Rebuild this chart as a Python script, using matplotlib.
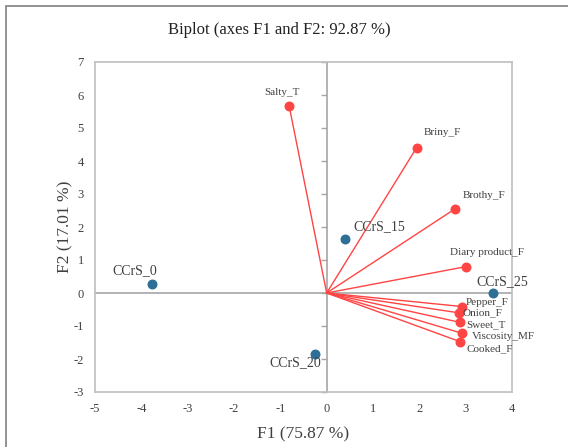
import matplotlib.pyplot as plt
from matplotlib.patches import Rectangle

# observacoes (scores)
obs_nomes = ['CCrS_0', 'CCrS_15', 'CCrS_20', 'CCrS_25']
obs_f1 = [-3.77, 0.40, -0.25, 3.60]
obs_f2 = [0.27, 1.63, -1.85, 0.00]

# variaveis (loadings escalados)
var_nomes = ['Salty_T', 'Briny_F', 'Brothy_F', 'Diary product_F', 'Pepper_F',
             'Onion_F', 'Sweet_T', 'Viscosity_MF', 'Cooked_F']
var_f1 = [-0.81, 1.94, 2.77, 3.01, 2.92, 2.85, 2.88, 2.92, 2.87]
var_f2 = [5.67, 4.40, 2.55, 0.80, -0.41, -0.60, -0.89, -1.22, -1.47]

xticks = [-5, -4, -3, -2, -1, 0, 1, 2, 3, 4]
yticks = [-3, -2, -1, 0, 1, 2, 3, 4, 5, 6, 7]

# deslocamento dos rotulos em pixels
obs_offset = [(-17, 13, 'center'), (8, 13, 'left'), (-20, -9, 'center'), (9, 11, 'center')]
var_offset = [(-7, 13, 'center'), (26, 15, 'center'), (29, 13, 'center'), (21, 14, 'center'),
              (4, 4, 'left'), (4, 0, 'left'), (6, -2, 'left'), (10, -3, 'left'), (7, -7, 'left')]

plt.rcParams['font.family'] = ['Liberation Serif', 'DejaVu Serif']
plt.rcParams['axes.unicode_minus'] = False

vermelho = '#FF4444'
azul = '#2E6F96'
cinza = '#BFBFBF'

fig = plt.figure(figsize=(5.68, 4.47), dpi=100)
fig.patches.append(Rectangle((6 / 568, -0.1), 1.2, 1 - 6 / 447 + 0.1, transform=fig.transFigure,
                             fill=False, edgecolor='#7F7F7F', linewidth=1.2))
ax = fig.add_axes([95 / 568, 1 - 392 / 447, (512 - 95) / 568, (392 - 62) / 447])

ax.axhline(0, color='#A6A6A6', linewidth=1.2, zorder=1)
ax.axvline(0, color='#A6A6A6', linewidth=1.2, zorder=1)
ax.plot([0] * len(yticks), yticks, linestyle='none', marker=0, markersize=4,
        color='#A6A6A6', markeredgewidth=1.0, clip_on=False, zorder=1)

for x, y in zip(var_f1, var_f2):
    ax.plot([0, x], [0, y], color=vermelho, linewidth=1.0, zorder=2)
ax.scatter(var_f1, var_f2, s=38, color=vermelho, zorder=3)
ax.scatter(obs_f1, obs_f2, s=38, color=azul, zorder=3)

for nome, x, y, (dx, dy, ha) in zip(var_nomes, var_f1, var_f2, var_offset):
    ax.annotate(nome, (x, y), xytext=(dx * 0.72, dy * 0.72), textcoords='offset points',
                ha=ha, va='center', fontsize=8, color='#404040')
for nome, x, y, (dx, dy, ha) in zip(obs_nomes, obs_f1, obs_f2, obs_offset):
    ax.annotate(nome, (x, y), xytext=(dx * 0.72, dy * 0.72), textcoords='offset points',
                ha=ha, va='center', fontsize=10, color='#404040')

ax.set_xlim(-5, 4)
ax.set_ylim(-3, 7)
ax.set_xticks(xticks)
ax.set_yticks(yticks)
ax.tick_params(length=0, labelsize=9, labelcolor='#404040', pad=8)
for s in ax.spines.values():
    s.set_color(cinza)
    s.set_linewidth(1.2)

ax.set_xlabel('F1 (75.87 %)', fontsize=12.5, color='#404040', labelpad=8)
ax.set_ylabel('F2 (17.01 %)', fontsize=12.5, color='#404040', labelpad=0)
fig.text(279 / 568, 1 - 30 / 447, 'Biplot (axes F1 and F2: 92.87 %)', ha='center', va='center',
         fontsize=12, color='#222222')

fig.savefig('out.png', dpi=100)
